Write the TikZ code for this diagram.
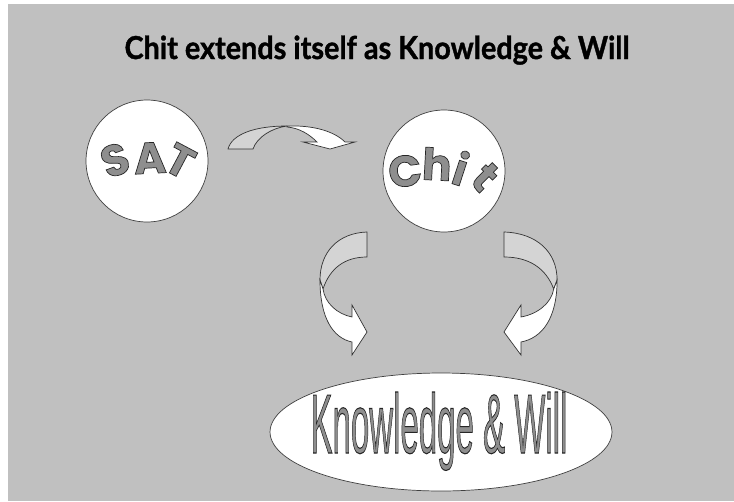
\documentclass[tikz,border=0pt]{standalone}
\usepackage{fontspec}
\usetikzlibrary{shapes.geometric}
\newfontfamily\titlefont{Lato}
\newfontfamily\letterfont{Poppins}
\newfontfamily\bannerfont{Liberation Sans}
\definecolor{bggray}{HTML}{C0C0C0}
\definecolor{bandgray}{HTML}{D4D4D4}
\definecolor{lettergray}{HTML}{8E8E8E}
\tikzstyle{bubble} = [circle, minimum size=2.44cm, inner sep=0pt,
    draw=black!75, fill=white, line width=0.4pt]
\tikzstyle{oval} = [ellipse, minimum width=6.84cm, minimum height=2.36cm,
    inner sep=0pt, draw=black!75, fill=white, line width=0.4pt]
\tikzstyle{letter} = [inner sep=0pt, font=\letterfont\bfseries\fontsize{25}{25}\selectfont]
\tikzstyle{backband} = [draw=black!80, fill=bandgray, line width=0.4pt]
\tikzstyle{frontband} = [draw=black!80, fill=white, line width=0.4pt]
\newcommand{\outlined}[1]{{\color{lettergray}\special{pdf:literal direct 2 Tr 0.4 w 0.15 G}#1\special{pdf:literal direct 0 Tr}}}

\begin{document}
\begin{tikzpicture}[x=0.02cm, y=-0.02cm]
                \useasboundingbox (0,0) rectangle (734,501);
                \fill[white] (0,0) rectangle (734,501);
                \fill[bggray] (8,4) rectangle (734,501);

                \node (title) [anchor=base] at (377,59) {\resizebox{10.1cm}{0.47cm}{\titlefont\bfseries\addfontfeatures{FakeBold=1.2}Chit extends itself as Knowledge \& Will}};

                \node (sat) [bubble] at (147,161) {};
                \node (chit) [bubble] at (444,171) {};
                \node (kw) [oval] at (441,432) {};

                % letters of the bubbles
                \node (sat1) [letter, rotate=20] at (115,160) {\outlined{S}};
                \node (sat2) [letter, rotate=3] at (150,158) {\outlined{A}};
                \node (sat3) [letter, rotate=-28] at (180,161) {\outlined{T}};
                \node (chit1) [letter, rotate=8] at (405,171) {\outlined{C}};
                \node (chit2) [letter, rotate=-3] at (437,164) {\outlined{h}};
                \node (chit3) [letter, rotate=-18] at (461,168) {\outlined{i}};
                \node (chit4) [letter, rotate=-45] at (485,177) {\outlined{t}};

                \node (kwtext) [inner sep=0pt, anchor=base] at (439,453)
                    {\resizebox{5.14cm}{1.22cm}{\bannerfont\fontsize{30}{30}\selectfont\outlined{Knowledge \& Will}}};

                % curved arrow from SAT to Chit
                \draw [backband] (228,149) .. controls (232,134) and (255,126) .. (287,126)
                    .. controls (272,128) and (257,137) .. (253,149) -- cycle;
                \draw [frontband] (287,126) .. controls (315,125) and (335,132) .. (345,142)
                    -- (355,142) -- (330,149) -- (303,142) -- (317,142)
                    .. controls (310,135) and (300,128) .. (287,127) -- cycle;

                % curved arrow down on the left
                \draw [backband] (367,232) .. controls (338,233) and (320,252) .. (320,280)
                    -- (323,289) .. controls (330,268) and (345,257) .. (367,257) -- cycle;
                \draw [frontband] (320,280) .. controls (320,318) and (333,338) .. (352,342)
                    -- (352,355) -- (367,332) -- (352,305) -- (352,317)
                    .. controls (337,314) and (325,303) .. (323,289) -- cycle;

                % curved arrow down on the right
                \begin{scope}[shift={(918.7,0)}, xscale=-1.13]
                \draw [backband] (367,232) .. controls (338,233) and (320,252) .. (320,280)
                    -- (323,289) .. controls (330,268) and (345,257) .. (367,257) -- cycle;
                \draw [frontband] (320,280) .. controls (320,318) and (333,338) .. (352,342)
                    -- (352,355) -- (367,332) -- (352,305) -- (352,317)
                    .. controls (337,314) and (325,303) .. (323,289) -- cycle;
                \end{scope}
            \end{tikzpicture}
\end{document}
